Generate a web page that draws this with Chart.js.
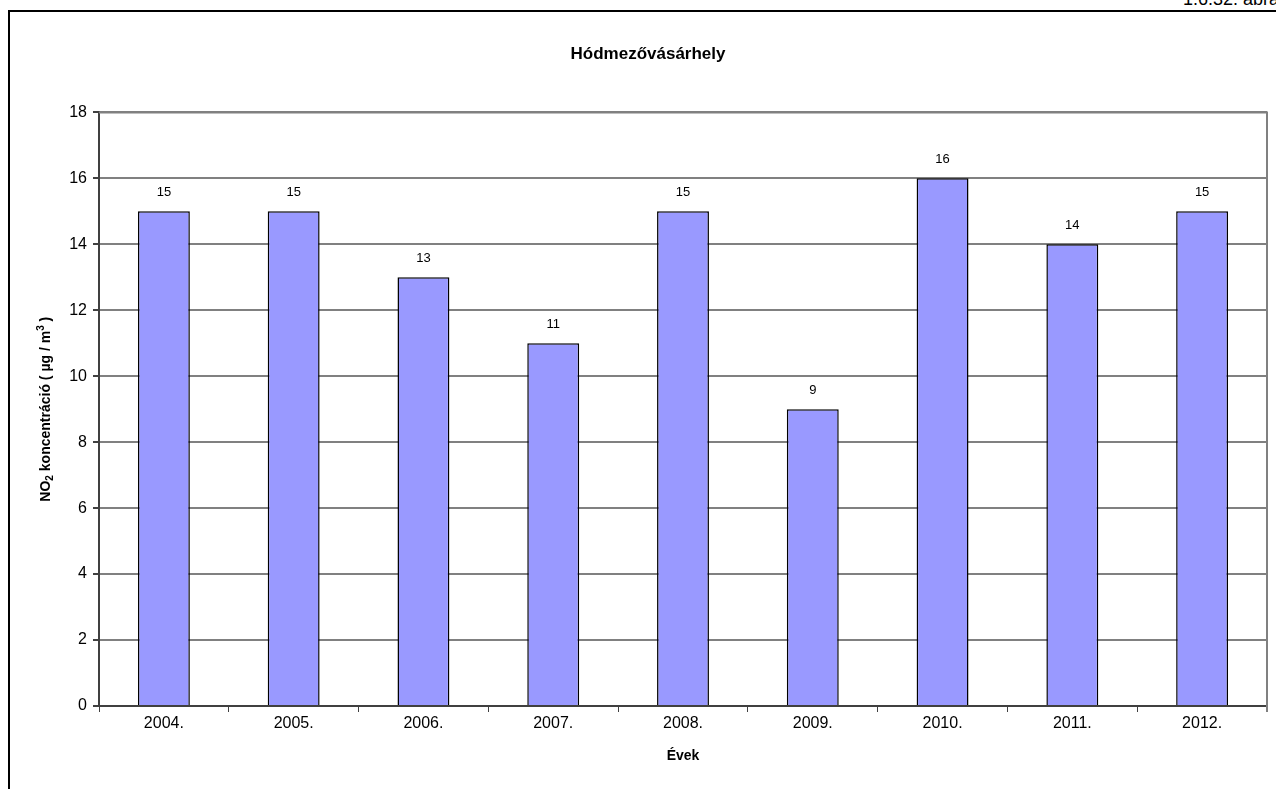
<!DOCTYPE html>
<html lang="hu">
<head>
    <meta charset="UTF-8">
    <title>Hódmezővásárhely NO2</title>
    <script src="https://cdn.jsdelivr.net/npm/chart.js"></script>
    <style>
        html, body { margin: 0; padding: 0; background: #fff; overflow: hidden; }
        #wrap { position: relative; width: 1276px; height: 789px; overflow: hidden; }
        #frame {
            position: absolute; left: 8px; top: 10px;
            width: 1300px; height: 820px;
            border: 2px solid #000;
        }
        #label {
            position: absolute; left: 1183px; top: -11px;
            font: 18px "Liberation Sans", Arial, sans-serif; color: #000;
            white-space: nowrap;
        }
        canvas { position: absolute; left: 0; top: 0; }
    </style>
</head>
<body>
<div id="wrap">
    <div id="label">1.6.32. ábra</div>
    <div id="frame"></div>
    <canvas id="no2Chart" width="1276" height="789"></canvas>
</div>
<script>
    const years = ['2004.', '2005.', '2006.', '2007.', '2008.', '2009.', '2010.', '2011.', '2012.'];
    const no2Values = [15, 15, 13, 11, 15, 9, 16, 14, 15];
    const yTicks = [0, 2, 4, 6, 8, 10, 12, 14, 16, 18];

    const FONT = '"Liberation Sans", Arial, sans-serif';

    // value labels above each bar + rotated y-axis title with sub/superscripts
    const extras = {
        id: 'extras',
        afterDatasetsDraw(chart) {
            const ctx = chart.ctx;
            const meta = chart.getDatasetMeta(0);
            ctx.save();
            ctx.font = '13px ' + FONT;
            ctx.fillStyle = '#000';
            ctx.textAlign = 'center';
            ctx.textBaseline = 'bottom';
            meta.data.forEach((bar, i) => {
                ctx.fillText(String(no2Values[i]), bar.x, bar.y - 12);
            });
            ctx.restore();
        },
        afterDraw(chart) {
            const ctx = chart.ctx;
            const area = chart.chartArea;
            const parts = [
                { t: 'NO', size: 14, dy: 0 },
                { t: '2', size: 10, dy: 3 },
                { t: ' koncentráció ( µg / m', size: 14, dy: 0 },
                { t: '3', size: 10, dy: -6 },
                { t: ' )', size: 14, dy: 0 }
            ];
            ctx.save();
            let total = 0;
            parts.forEach(p => {
                ctx.font = 'bold ' + p.size + 'px ' + FONT;
                p.w = ctx.measureText(p.t).width;
                total += p.w;
            });
            ctx.translate(50, (area.top + area.bottom) / 2);
            ctx.rotate(-Math.PI / 2);
            ctx.fillStyle = '#000';
            ctx.textBaseline = 'alphabetic';
            ctx.textAlign = 'left';
            let x = -total / 2;
            parts.forEach(p => {
                ctx.font = 'bold ' + p.size + 'px ' + FONT;
                ctx.fillText(p.t, x, p.dy);
                x += p.w;
            });
            ctx.restore();
            // plot area outline on top/right
            ctx.save();
            ctx.strokeStyle = '#808080';
            ctx.lineWidth = 2;
            ctx.beginPath();
            ctx.moveTo(area.left, area.top);
            ctx.lineTo(area.right, area.top);
            ctx.lineTo(area.right, area.bottom + 6);
            ctx.stroke();
            ctx.restore();
        }
    };

    new Chart(document.getElementById('no2Chart'), {
        type: 'bar',
        data: {
            labels: years,
            datasets: [{
                data: no2Values,
                backgroundColor: '#9999FF',
                borderColor: '#000',
                borderWidth: 1.5,
                categoryPercentage: 1,
                barPercentage: 0.4
            }]
        },
        options: {
            responsive: false,
            animation: false,
            layout: { padding: { top: 0, right: 9, bottom: 0, left: 29 } },
            plugins: {
                legend: { display: false },
                tooltip: { enabled: false },
                title: {
                    display: true,
                    text: 'Hódmezővásárhely',
                    color: '#000',
                    font: { family: FONT, size: 17, weight: 'bold' },
                    padding: { top: 44, bottom: 48 }
                }
            },
            scales: {
                x: {
                    afterFit(scale) { scale.height = 83; },
                    grid: {
                        offset: true,
                        drawOnChartArea: false,
                        color: '#404040',
                        tickLength: 6
                    },
                    border: { color: '#404040', width: 2 },
                    ticks: {
                        color: '#000',
                        font: { family: FONT, size: 16 },
                        padding: 2,
                        maxRotation: 0
                    },
                    title: {
                        display: true,
                        text: 'Évek',
                        color: '#000',
                        font: { family: FONT, size: 14, weight: 'bold' },
                        padding: { top: 0, bottom: 24 }
                    }
                },
                y: {
                    min: 0,
                    max: 18,
                    afterBuildTicks(scale) {
                        scale.ticks = yTicks.map(v => ({ value: v }));
                    },
                    afterFit(scale) { scale.width = 70; },
                    grid: {
                        color: '#808080',
                        lineWidth: 2,
                        tickLength: 6,
                        tickColor: '#404040'
                    },
                    border: { color: '#404040', width: 2 },
                    ticks: {
                        color: '#000',
                        font: { family: FONT, size: 16 },
                        padding: 6
                    }
                }
            }
        },
        plugins: [extras]
    });
</script>
</body>
</html>
